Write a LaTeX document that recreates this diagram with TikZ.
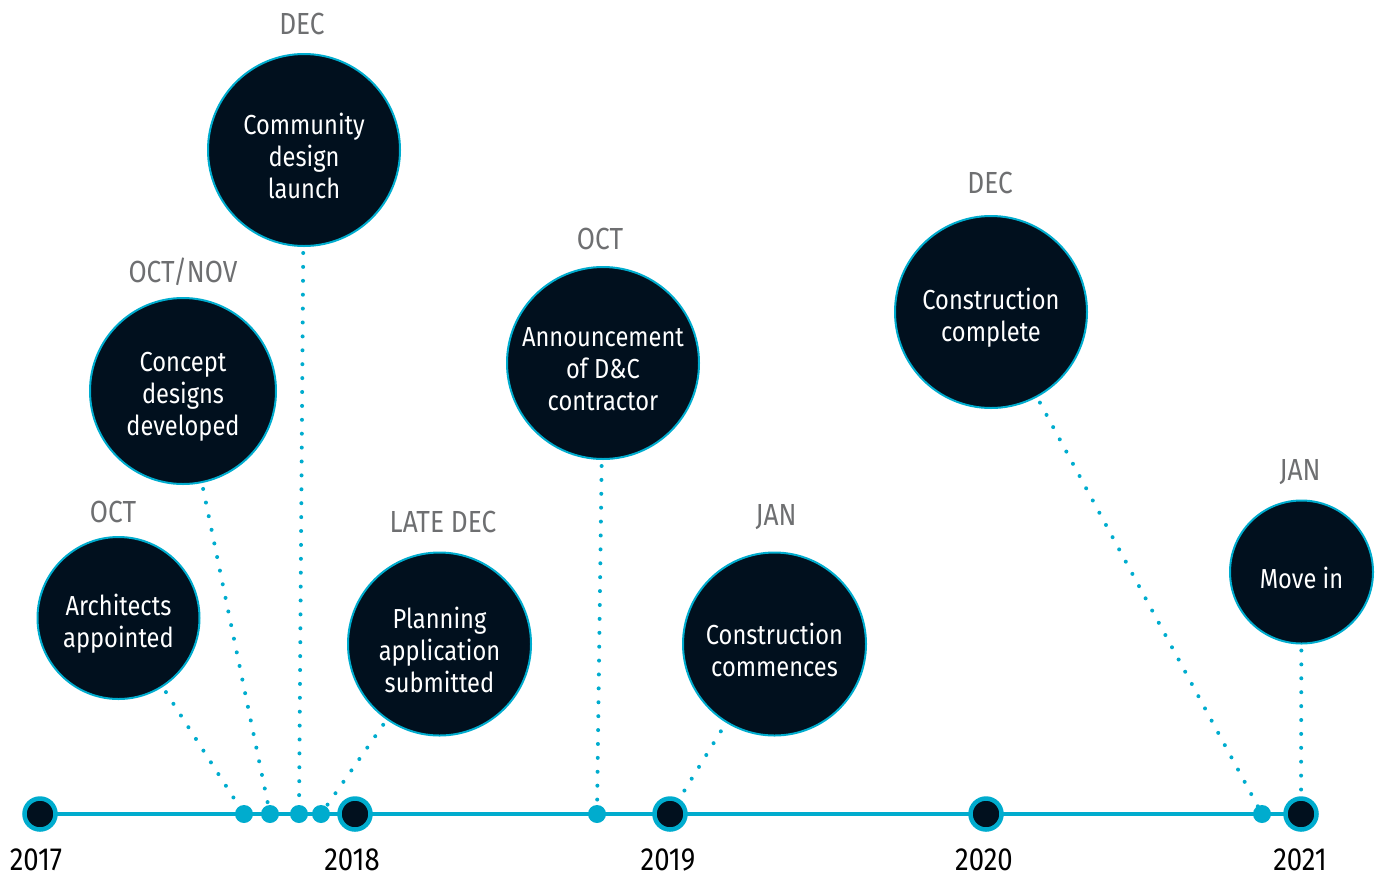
\documentclass[tikz,border=0pt]{standalone}
\usepackage{fontspec}
\setmainfont{Fira Sans}[FakeStretch=0.86]
\definecolor{navy}{RGB}{1,16,30}
\definecolor{teal}{RGB}{0,172,206}
\definecolor{monthgray}{RGB}{110,111,113}
\tikzset{
  event/.style={circle, fill=navy, draw=teal, line width=2pt, inner sep=0pt},
  eventtext/.style={text=white, align=center, yshift=-6pt, font=\fontsize{27.5}{32}\selectfont},
  month/.style={text=monthgray, font=\fontsize{30.5}{32}\selectfont},
  year/.style={text=black, anchor=base, inner sep=0pt, font=\fontsize{32}{32}\selectfont},
  bigdot/.style={circle, fill=navy, draw=teal, line width=4.5pt, minimum size=31pt, inner sep=0pt},
  smalldot/.style={circle, fill=teal, minimum size=18pt, inner sep=0pt},
  dotline/.style={teal, line width=4pt, line cap=round, dash pattern=on 0pt off 13.9pt},
}
\begin{document}
\begin{tikzpicture}[x=1pt,y=1pt,yscale=-1,xscale=1]
\useasboundingbox (0,0) rectangle (1380,879);

%Straight Lines: time axis
\draw [teal, line width=4pt] (40,814) -- (1301,814) ;

%Connector ends on the axis
\coordinate (pArch) at (244,814);
\coordinate (pConc) at (270,814);
\coordinate (pComm) at (299,814);
\coordinate (pPlan) at (321,814);
\coordinate (pAnno) at (597,814);
\coordinate (pDone) at (1262,814);

% Shape: Circles
\node [event, minimum size=162pt, label={[eventtext]center:{Architects\\appointed}}] (arch) at (118.5,618) {};
\node [event, minimum size=186pt, label={[eventtext]center:{Concept\\designs\\developed}}] (conc) at (183,391) {};
\node [event, minimum size=192pt, label={[eventtext]center:{Community\\design\\launch}}] (comm) at (304,150) {};
\node [event, minimum size=183pt, label={[eventtext]center:{Planning\\application\\submitted}}] (plan) at (439.5,644) {};
\node [event, minimum size=192pt, label={[eventtext]center:{Announcement\\of D\&C\\contractor}}] (anno) at (603,363) {};
\node [event, minimum size=183pt, label={[eventtext]center:{Construction\\commences}}] (cons) at (774.5,644) {};
\node [event, minimum size=192pt, label={[eventtext]center:{Construction\\complete}}] (done) at (991,312) {};
\node [event, minimum size=143pt, label={[eventtext]center:{Move in}}] (move) at (1301.5,572) {};

% Shape: Timeline dots
\node [bigdot] (y17) at (40,814) {};
\node [bigdot] (y18) at (355,814) {};
\node [bigdot] (y19) at (670,814) {};
\node [bigdot] (y20) at (986,814) {};
\node [bigdot] (y21) at (1301,814) {};

%Dotted lines
\draw [dotline, shorten <=6pt] (arch) -- (pArch) ;
\draw [dotline, shorten <=6pt] (conc) -- (pConc) ;
\draw [dotline, shorten <=6pt] (comm) -- (pComm) ;
\draw [dotline, shorten <=6pt] (plan) -- (pPlan) ;
\draw [dotline, shorten <=6pt] (anno) -- (pAnno) ;
\draw [dotline, shorten <=10pt, shorten >=6pt] (cons) -- (y19) ;
\draw [dotline, shorten <=6pt] (done) -- (pDone) ;
\draw [dotline, shorten <=6pt, shorten >=4pt] (move) -- (y21) ;

\node [smalldot] (s1) at (pArch) {};
\node [smalldot] (s2) at (pConc) {};
\node [smalldot] (s3) at (pComm) {};
\node [smalldot] (s4) at (pPlan) {};
\node [smalldot] (s5) at (pAnno) {};
\node [smalldot] (s6) at (pDone) {};

% Text Node: months
\node [month] (mArch) at (113,512) {OCT};
\node [month] (mConc) at (183,272) {OCT/NOV};
\node [month] (mComm) at (302,24) {DEC};
\node [month] (mPlan) at (443,522) {LATE DEC};
\node [month] (mAnno) at (600,239) {OCT};
\node [month] (mCons) at (776,517) {JAN};
\node [month] (mDone) at (990,183) {DEC};
\node [month] (mMove) at (1300,472) {JAN};

% Text Node: years
\node [year] (t17) at (36,870) {2017};
\node [year] (t18) at (352,870) {2018};
\node [year] (t19) at (668,870) {2019};
\node [year] (t20) at (984,870) {2020};
\node [year] (t21) at (1300,870) {2021};

\end{tikzpicture}
\end{document}
